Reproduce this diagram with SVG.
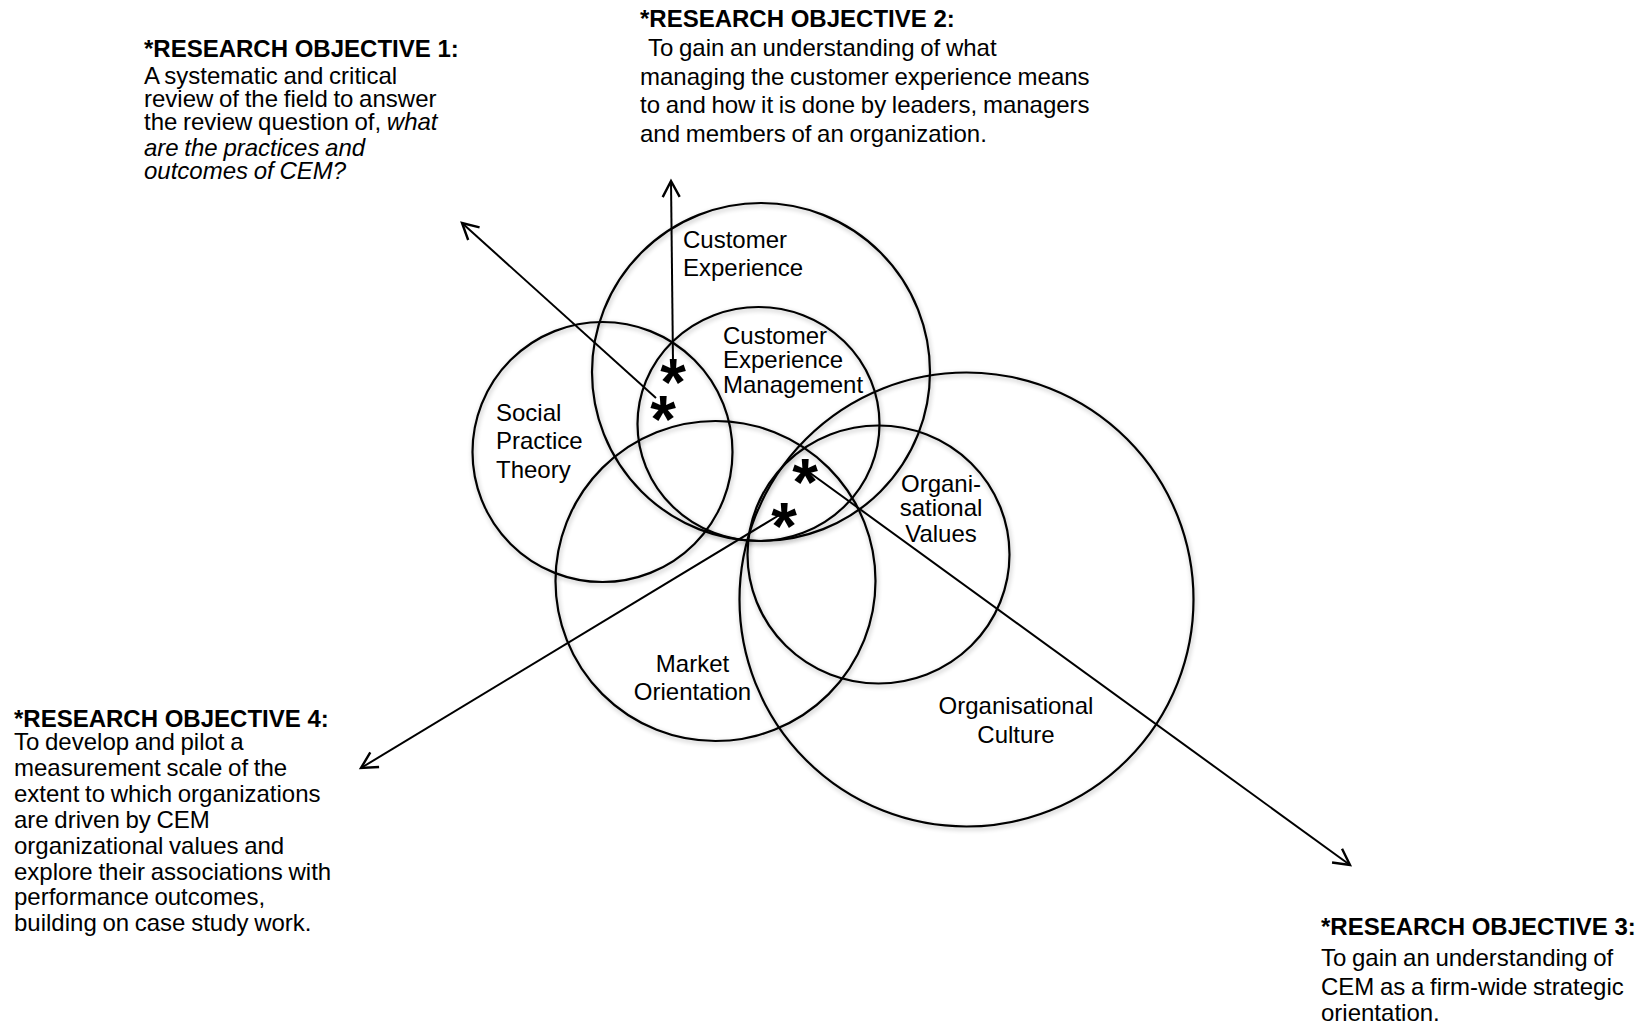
<svg xmlns="http://www.w3.org/2000/svg" width="1640" height="1025" viewBox="0 0 1640 1025">
  <style>
    text { font-family: "Liberation Sans", Arial, sans-serif; fill: #000; }
    .title { font-size: 24px; font-weight: bold; }
    .body { font-size: 24px; word-spacing: -1px; }
    .label { font-size: 24px; }
    .mid { text-anchor: middle; }
    .ring { fill: none; stroke: #000; stroke-width: 2.2; }
    .link { fill: none; stroke: #000; stroke-width: 2; }
    .star { font-size: 66px; font-weight: bold; text-anchor: middle; }
  </style>
  <defs>
    <filter id="soft-shadow" x="-10%" y="-10%" width="120%" height="120%">
      <feGaussianBlur in="SourceAlpha" stdDeviation="2.5"/>
      <feOffset dx="1" dy="2" result="blur"/>
      <feComponentTransfer>
        <feFuncA type="linear" slope="0.3"/>
      </feComponentTransfer>
      <feMerge>
        <feMergeNode/>
        <feMergeNode in="SourceGraphic"/>
      </feMerge>
    </filter>
    <marker id="open-arrow" viewBox="-20 -12 24 24" markerWidth="24" markerHeight="24" refX="0" refY="0" orient="auto" markerUnits="userSpaceOnUse">
      <path d="M-16,-8.5 L0,0 L-16,8.5" fill="none" stroke="#000" stroke-width="2.4"/>
    </marker>
  </defs>

  <rect width="1640" height="1025" fill="#fff"/>

  <!-- Concept circles -->
  <g id="customer-experience">
    <circle class="ring" filter="url(#soft-shadow)" cx="761" cy="372" r="169"/>
    <text class="label" x="683" y="248">Customer</text>
    <text class="label" x="683" y="276">Experience</text>
  </g>

  <g id="customer-experience-management">
    <ellipse class="ring" filter="url(#soft-shadow)" cx="758.5" cy="424" rx="121" ry="117"/>
    <text class="label" x="723" y="344">Customer</text>
    <text class="label" x="723" y="368">Experience</text>
    <text class="label" x="723" y="393">Management</text>
  </g>

  <g id="social-practice-theory">
    <circle class="ring" filter="url(#soft-shadow)" cx="602.5" cy="452" r="130"/>
    <text class="label" x="496" y="421">Social</text>
    <text class="label" x="496" y="449">Practice</text>
    <text class="label" x="496" y="478">Theory</text>
  </g>

  <g id="market-orientation">
    <circle class="ring" filter="url(#soft-shadow)" cx="715.5" cy="581" r="160"/>
    <text class="label mid" x="692.5" y="672">Market</text>
    <text class="label mid" x="692.5" y="700">Orientation</text>
  </g>

  <g id="organisational-values">
    <ellipse class="ring" filter="url(#soft-shadow)" cx="878.5" cy="554.5" rx="131" ry="129"/>
    <text class="label mid" x="941" y="492">Organi-</text>
    <text class="label mid" x="941" y="516">sational</text>
    <text class="label mid" x="941" y="542">Values</text>
  </g>

  <g id="organisational-culture">
    <circle class="ring" filter="url(#soft-shadow)" cx="966.5" cy="599.5" r="227"/>
    <text class="label mid" x="1016" y="714">Organisational</text>
    <text class="label mid" x="1016" y="743">Culture</text>
  </g>

  <!-- Objective arrows, each starting from an asterisk in an overlap -->
  <g id="connectors">
    <line class="link" x1="656" y1="398" x2="462" y2="223" marker-end="url(#open-arrow)"/>
    <line class="link" x1="673" y1="362" x2="671" y2="181" marker-end="url(#open-arrow)"/>
    <line class="link" x1="806" y1="470" x2="1350" y2="865" marker-end="url(#open-arrow)"/>
    <line class="link" x1="781" y1="514" x2="361" y2="768" marker-end="url(#open-arrow)"/>
    <text class="star" x="673" y="405">*</text>
    <text class="star" x="663" y="442">*</text>
    <text class="star" x="805" y="505">*</text>
    <text class="star" x="784" y="549">*</text>
  </g>

  <!-- Research objective captions -->
  <g id="objective-1">
    <text class="title" x="144" y="57">*RESEARCH OBJECTIVE 1:</text>
    <text class="body" x="144" y="84">A systematic and critical</text>
    <text class="body" x="144" y="107">review of the field to answer</text>
    <text class="body" x="144" y="130">the review question of, <tspan font-style="italic">what</tspan></text>
    <text class="body" x="144" y="156" font-style="italic">are the practices and</text>
    <text class="body" x="144" y="179" font-style="italic">outcomes of CEM?</text>
  </g>

  <g id="objective-2">
    <text class="title" x="640" y="27">*RESEARCH OBJECTIVE 2:</text>
    <text class="body" x="648" y="56">To gain an understanding of what</text>
    <text class="body" x="640" y="85">managing the customer experience means</text>
    <text class="body" x="640" y="113">to and how it is done by leaders, managers</text>
    <text class="body" x="640" y="142">and members of an organization.</text>
  </g>

  <g id="objective-3">
    <text class="title" x="1321" y="935">*RESEARCH OBJECTIVE 3:</text>
    <text class="body" x="1321" y="966">To gain an understanding of</text>
    <text class="body" x="1321" y="995">CEM as a firm-wide strategic</text>
    <text class="body" x="1321" y="1021">orientation.</text>
  </g>

  <g id="objective-4">
    <text class="title" x="14" y="727">*RESEARCH OBJECTIVE 4:</text>
    <text class="body" x="14" y="750">To develop and pilot a</text>
    <text class="body" x="14" y="776">measurement scale of the</text>
    <text class="body" x="14" y="802">extent to which organizations</text>
    <text class="body" x="14" y="828">are driven by CEM</text>
    <text class="body" x="14" y="854">organizational values and</text>
    <text class="body" x="14" y="880">explore their associations with</text>
    <text class="body" x="14" y="905">performance outcomes,</text>
    <text class="body" x="14" y="931">building on case study work.</text>
  </g>
</svg>
